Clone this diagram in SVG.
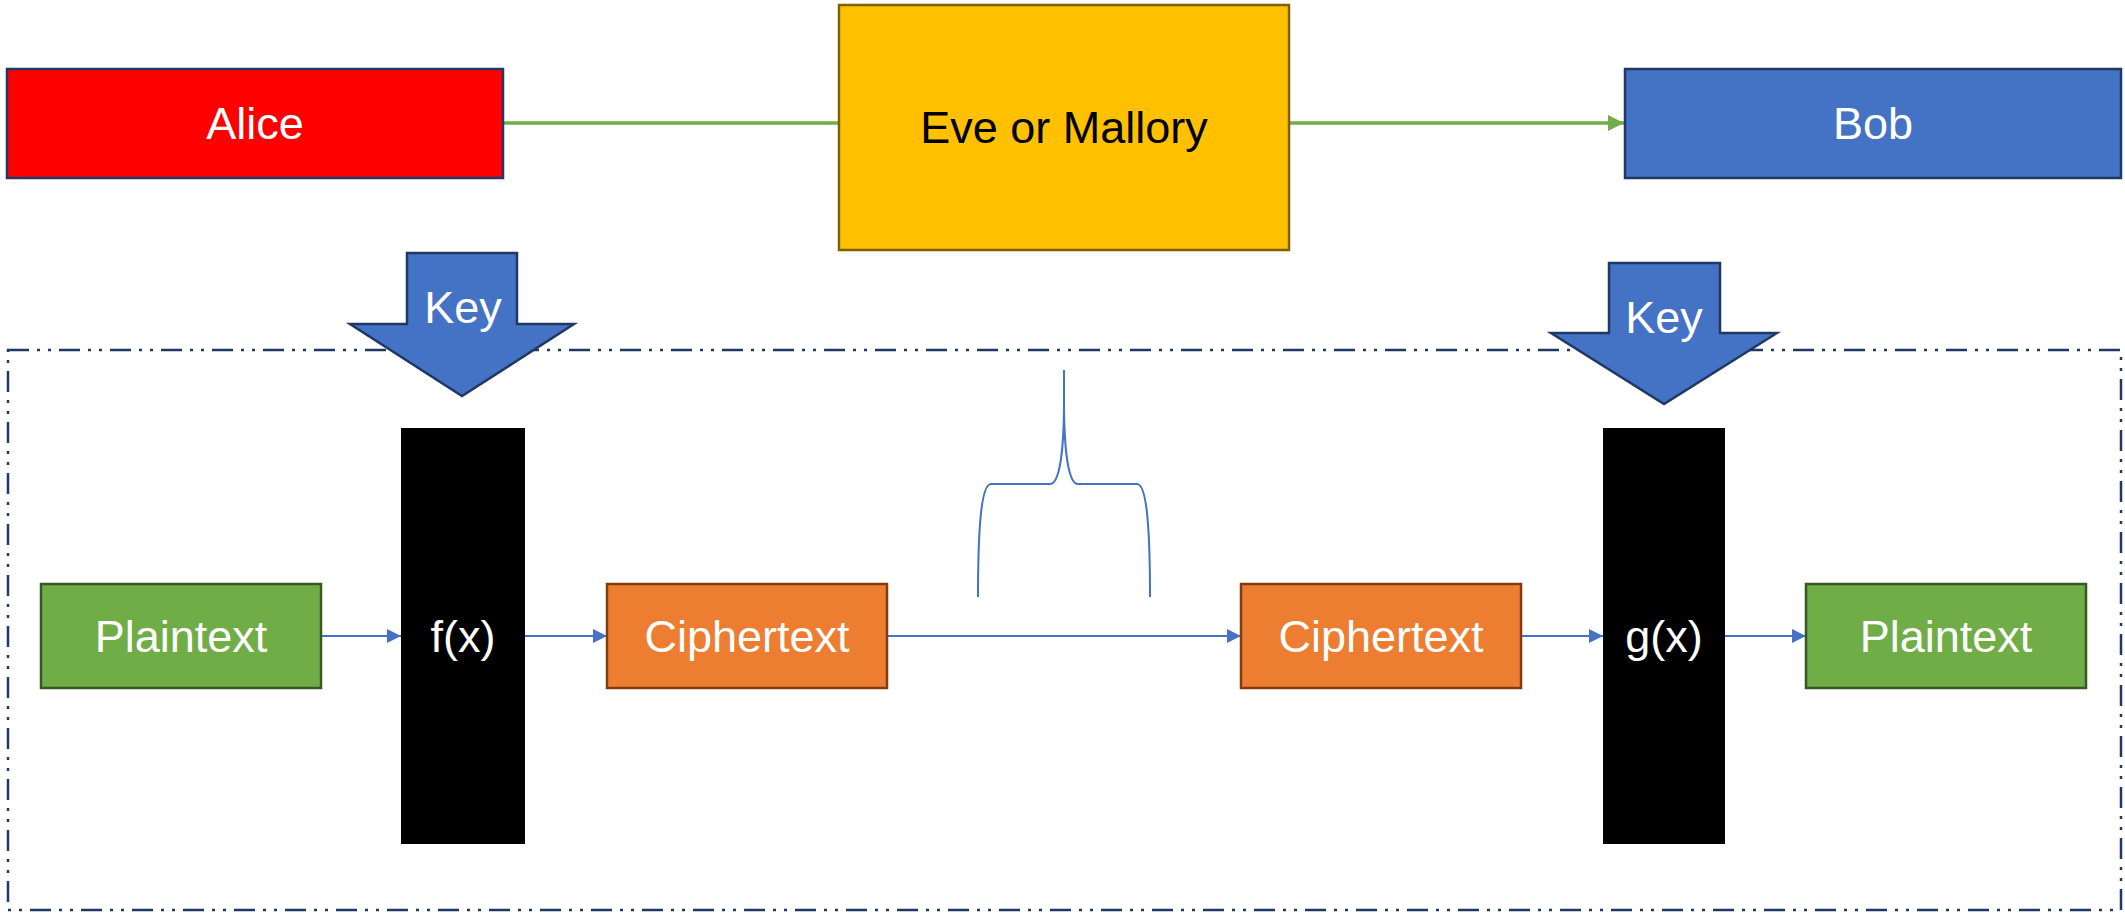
<svg xmlns="http://www.w3.org/2000/svg" width="2125" height="916" viewBox="0 0 2125 916">
<style>
  .lbl{font-family:"Liberation Sans",Arial,sans-serif;font-size:45px;text-anchor:middle;fill:#FFFFFF}
  .dark{fill:#000000}
  .box{stroke-width:2.5}
  .flow{stroke:#4472C4;stroke-width:2;fill:none}
  .green{stroke:#70AD47;stroke-width:3.5;fill:none}
</style>
<defs>
  <marker id="ab" markerWidth="16" markerHeight="16" refX="14" refY="7" orient="auto" markerUnits="userSpaceOnUse">
    <path d="M0,0 L14,7 L0,14 Z" fill="#4472C4"/>
  </marker>
  <marker id="ag" markerWidth="18" markerHeight="18" refX="16" refY="8" orient="auto" markerUnits="userSpaceOnUse">
    <path d="M0,0 L16,8 L0,16 Z" fill="#70AD47"/>
  </marker>
</defs>
<rect width="2125" height="916" fill="#FFFFFF"/>

<g id="boundary">
  <rect x="8" y="350" width="2113" height="560" fill="none" stroke="#1F3864" stroke-width="2.5" stroke-dasharray="21 8 3 8 3 8"/>
</g>

<g id="connectors">
  <line class="green" x1="503" y1="123" x2="839" y2="123"/>
  <line class="green" x1="1289" y1="123" x2="1624" y2="123" marker-end="url(#ag)"/>
  <line class="flow" x1="321" y1="636" x2="401" y2="636" marker-end="url(#ab)"/>
  <line class="flow" x1="525" y1="636" x2="607" y2="636" marker-end="url(#ab)"/>
  <line class="flow" x1="887" y1="636" x2="1241" y2="636" marker-end="url(#ab)"/>
  <line class="flow" x1="1521" y1="636" x2="1603" y2="636" marker-end="url(#ab)"/>
  <line class="flow" x1="1725" y1="636" x2="1806" y2="636" marker-end="url(#ab)"/>
  <path id="brace" class="flow" stroke-width="1.8" d="M978,597 C978,530 981,484 991,484 L1050,484 C1059,484 1064,455 1064,400 L1064,370 M1064,400 C1064,455 1069,484 1078,484 L1137,484 C1147,484 1150,530 1150,597"/>
</g>

<g id="alice">
  <rect class="box" x="7" y="69" width="496" height="109" fill="#FF0000" stroke="#1F3864"/>
  <text class="lbl" x="255" y="139">Alice</text>
</g>
<g id="eve">
  <rect class="box" x="839" y="5" width="450" height="245" fill="#FFC000" stroke="#7F6000"/>
  <text class="lbl dark" x="1064" y="143">Eve or Mallory</text>
</g>
<g id="bob">
  <rect class="box" x="1625" y="69" width="496" height="109" fill="#4472C4" stroke="#1F3864"/>
  <text class="lbl" x="1873" y="139">Bob</text>
</g>

<g id="key-left">
  <path d="M407,253 L517,253 L517,324 L574,324 L462,396 L350,324 L407,324 Z" fill="#4472C4" stroke="#1F3864" stroke-width="2.5" stroke-linejoin="miter"/>
  <text class="lbl" x="463" y="323">Key</text>
</g>
<g id="key-right">
  <path d="M1609,263 L1720,263 L1720,333 L1777,333 L1664,404 L1551,333 L1609,333 Z" fill="#4472C4" stroke="#1F3864" stroke-width="2.5"/>
  <text class="lbl" x="1664" y="333">Key</text>
</g>

<g id="plaintext-left">
  <rect class="box" x="41" y="584" width="280" height="104" fill="#70AD47" stroke="#385723"/>
  <text class="lbl" x="181" y="652">Plaintext</text>
</g>
<g id="fx">
  <rect x="401" y="428" width="124" height="416" fill="#000000"/>
  <text class="lbl" x="463" y="652">f(x)</text>
</g>
<g id="ciphertext-left">
  <rect class="box" x="607" y="584" width="280" height="104" fill="#ED7D31" stroke="#843C0C"/>
  <text class="lbl" x="747" y="652">Ciphertext</text>
</g>
<g id="ciphertext-right">
  <rect class="box" x="1241" y="584" width="280" height="104" fill="#ED7D31" stroke="#843C0C"/>
  <text class="lbl" x="1381" y="652">Ciphertext</text>
</g>
<g id="gx">
  <rect x="1603" y="428" width="122" height="416" fill="#000000"/>
  <text class="lbl" x="1664" y="652">g(x)</text>
</g>
<g id="plaintext-right">
  <rect class="box" x="1806" y="584" width="280" height="104" fill="#70AD47" stroke="#385723"/>
  <text class="lbl" x="1946" y="652">Plaintext</text>
</g>
</svg>
